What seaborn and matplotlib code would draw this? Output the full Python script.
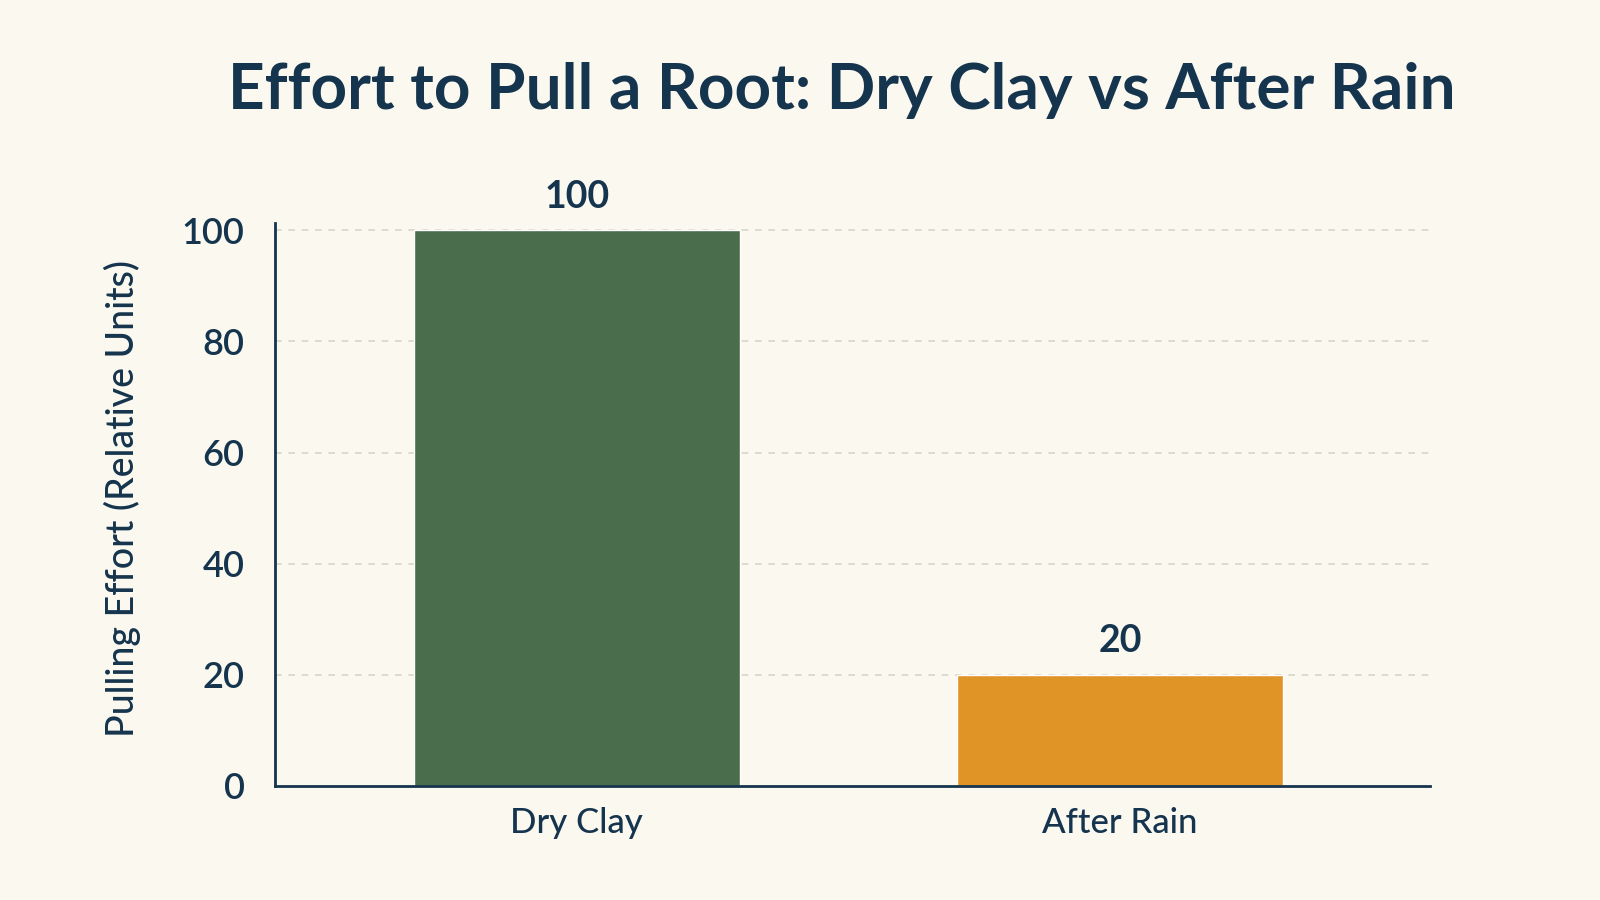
import matplotlib
matplotlib.use("Agg")
from matplotlib import pyplot as plt
import pandas as pd
import seaborn as sns

# Chart data
conditions = ['Dry Clay', 'After Rain']
effort = [100, 20]
y_ticks = [0, 20, 40, 60, 80, 100]

bg = '#fbf8f0'
navy = '#15344d'
colors = ['#4a6d4b', '#e09426']

sns.set_theme(style='white')
plt.rcParams['font.family'] = ['Lato', 'DejaVu Sans']

df = pd.DataFrame({'Condition': conditions, 'Effort': effort})

fig = plt.figure(figsize=(16, 9), dpi=100, facecolor=bg)
ax = fig.add_axes([0.172, 0.1267, 0.722, 0.6255])
ax.set_facecolor(bg)

sns.barplot(data=df, x='Condition', y='Effort', hue='Condition', palette=colors,
            width=0.6, saturation=1, legend=False, ax=ax, zorder=2)

ax.set_ylim(0, 101.3)
ax.set_xlim(-0.555, 1.571)
ax.set_yticks(y_ticks)
ax.set_yticklabels([str(t) for t in y_ticks])

# dashed grid, not at the baseline
for t in y_ticks[1:]:
    ax.axhline(t, color='#d8d5cc', linestyle=(0, (4, 4)), linewidth=1.2, zorder=0)

for i, v in enumerate(effort):
    ax.text(i, v + 3, str(v), ha='center', va='bottom', fontsize=27,
            fontweight='bold', color=navy)

for s in ['top', 'right']:
    ax.spines[s].set_visible(False)
for s in ['left', 'bottom']:
    ax.spines[s].set_color(navy)
    ax.spines[s].set_linewidth(2)

ax.tick_params(axis='y', length=0, pad=22, labelsize=26, labelcolor=navy)
ax.tick_params(axis='x', length=0, pad=15, labelsize=25, labelcolor=navy)
for lbl in ax.get_yticklabels():
    lbl.set_fontweight('semibold')
for lbl in ax.get_xticklabels():
    lbl.set_fontweight('medium')

ax.set_xlabel('')
ax.set_ylabel('Pulling Effort (Relative Units)', fontsize=27, color=navy,
              fontweight='medium')
ax.yaxis.set_label_coords(-0.116, 0.51)

fig.text(0.526, 0.899, 'Effort to Pull a Root: Dry Clay vs After Rain',
         ha='center', va='center', fontsize=46, fontweight='bold', color=navy)

fig.savefig('out.png', dpi=100, facecolor=bg)
